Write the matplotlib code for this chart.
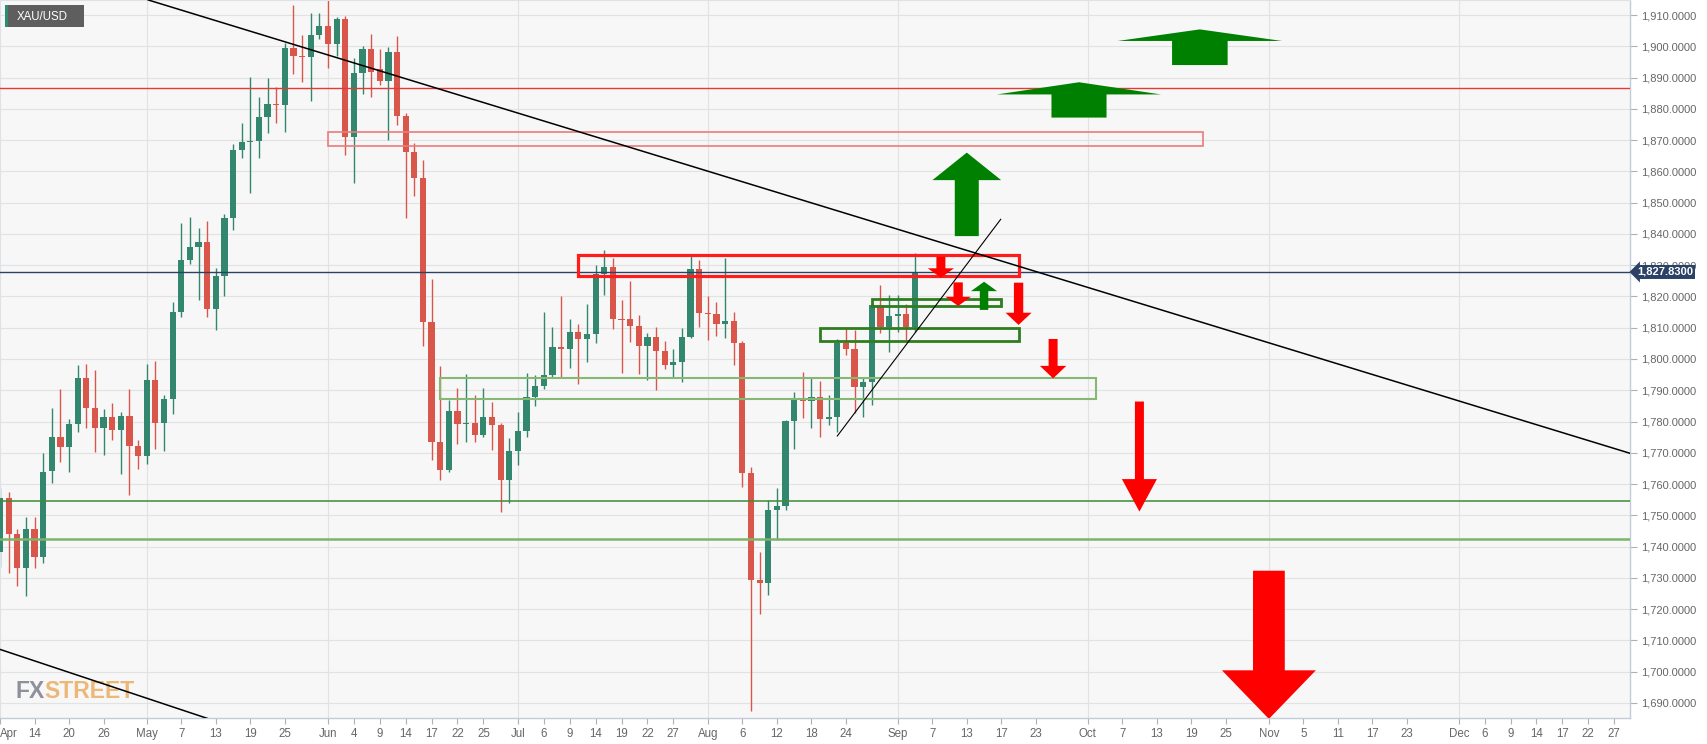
import numpy as np
import pandas as pd
import matplotlib
matplotlib.use('Agg')
import matplotlib.pyplot as plt
from matplotlib.patches import Rectangle, Polygon

plt.rcParams['font.family'] = ['Liberation Sans', 'DejaVu Sans']

# XAU/USD daily candles, 8 Apr - 3 Sep 2021
opens = [1738.4, 1755.7, 1743.9, 1733.1, 1745.5, 1736.8, 1764.2, 1775.1, 1772.0, 1779.1,
         1793.8, 1784.4, 1777.8, 1781.3, 1777.3, 1781.8, 1772.3, 1769.1, 1793.3, 1779.4,
         1787.1, 1815.1, 1831.7, 1835.9, 1837.3, 1815.9, 1826.5, 1845.0, 1866.8, 1869.5,
         1869.6, 1877.5, 1881.4, 1881.1, 1899.3, 1896.9, 1896.7, 1903.6, 1906.5, 1900.7,
         1908.7, 1871.1, 1891.6, 1899.1, 1892.7, 1888.9, 1898.3, 1877.8, 1866.3, 1857.8,
         1811.9, 1773.6, 1764.5, 1783.4, 1779.2, 1779.4, 1775.7, 1781.6, 1778.9, 1761.3,
         1770.6, 1777.0, 1788.0, 1791.4, 1794.9, 1803.9, 1803.2, 1808.5, 1806.4, 1807.9,
         1827.2, 1829.5, 1812.7, 1812.7, 1810.6, 1804.0, 1806.9, 1802.4, 1798.1, 1799.2,
         1807.1, 1828.7, 1814.6, 1814.3, 1811.1, 1812.3, 1805.0, 1763.7, 1729.4, 1728.3,
         1751.7, 1753.0, 1780.3, 1787.4, 1786.7, 1788.0, 1780.7, 1781.6, 1805.2, 1803.1,
         1791.2, 1792.8, 1817.3, 1810.3, 1813.7, 1814.3, 1810.3]
highs = [1758.6, 1757.6, 1745.5, 1749.4, 1749.6, 1769.8, 1784.2, 1790.3, 1780.8, 1798.1,
         1798.4, 1796.5, 1784.0, 1785.8, 1783.0, 1790.3, 1774.1, 1798.4, 1799.4, 1788.5,
         1818.3, 1843.6, 1845.5, 1842.0, 1844.2, 1829.0, 1846.3, 1868.8, 1875.4, 1890.3,
         1883.9, 1889.8, 1887.1, 1900.9, 1913.2, 1903.6, 1910.8, 1910.8, 1916.0, 1909.5,
         1909.7, 1896.1, 1900.1, 1903.8, 1899.0, 1899.9, 1903.3, 1878.6, 1869.2, 1863.6,
         1825.5, 1797.8, 1786.9, 1790.6, 1795.1, 1788.5, 1790.6, 1786.4, 1779.4, 1774.6,
         1783.2, 1795.4, 1794.9, 1815.1, 1810.3, 1820.0, 1812.7, 1811.2, 1817.6, 1830.1,
         1834.7, 1832.2, 1819.0, 1825.0, 1814.1, 1808.2, 1810.3, 1805.6, 1803.1, 1809.8,
         1832.9, 1831.7, 1820.2, 1818.3, 1832.4, 1815.1, 1805.6, 1765.6, 1738.4, 1754.9,
         1758.6, 1780.5, 1789.6, 1796.0, 1794.1, 1793.0, 1788.5, 1806.3, 1809.8, 1809.3,
         1794.3, 1817.8, 1823.7, 1820.5, 1820.5, 1817.6, 1833.8]
lows = [1733.6, 1731.5, 1727.5, 1724.2, 1733.1, 1734.7, 1760.2, 1767.0, 1764.0, 1776.6,
        1777.8, 1770.2, 1769.3, 1774.1, 1763.2, 1756.5, 1764.7, 1766.3, 1771.1, 1770.7,
        1782.3, 1813.5, 1830.4, 1818.8, 1813.5, 1809.3, 1820.2, 1841.3, 1864.2, 1853.0,
        1864.2, 1872.2, 1875.4, 1872.7, 1891.1, 1888.5, 1882.6, 1902.2, 1893.0, 1896.9,
        1865.2, 1856.2, 1884.6, 1883.9, 1887.6, 1870.0, 1874.8, 1845.0, 1852.1, 1804.0,
        1767.7, 1761.3, 1764.0, 1772.8, 1773.6, 1773.6, 1775.2, 1770.9, 1751.2, 1753.9,
        1766.1, 1775.0, 1785.0, 1790.3, 1794.1, 1794.4, 1797.0, 1791.9, 1798.9, 1805.0,
        1820.5, 1809.5, 1795.4, 1805.3, 1795.2, 1793.3, 1790.1, 1796.7, 1793.8, 1792.8,
        1806.6, 1810.3, 1806.1, 1807.4, 1806.6, 1798.1, 1759.2, 1687.5, 1718.5, 1724.5,
        1742.1, 1751.7, 1771.1, 1781.0, 1777.8, 1775.2, 1778.9, 1776.8, 1801.3, 1782.6,
        1781.6, 1785.3, 1808.4, 1802.3, 1808.7, 1805.5, 1808.7]
closes = [1755.4, 1743.9, 1733.1, 1745.5, 1736.8, 1764.0, 1775.1, 1772.0, 1779.1, 1793.8,
          1784.4, 1777.8, 1781.3, 1777.3, 1781.8, 1772.3, 1769.1, 1793.3, 1779.4, 1787.1,
          1815.1, 1831.5, 1835.9, 1837.3, 1815.9, 1826.5, 1845.0, 1866.8, 1869.5, 1869.6,
          1877.5, 1881.4, 1881.1, 1899.3, 1896.9, 1896.7, 1903.6, 1906.5, 1900.7, 1908.7,
          1871.1, 1891.6, 1899.1, 1891.9, 1888.9, 1898.3, 1877.8, 1866.3, 1857.8, 1811.9,
          1773.6, 1764.5, 1783.4, 1779.2, 1779.4, 1775.7, 1781.6, 1778.9, 1761.3, 1770.6,
          1777.0, 1788.0, 1791.4, 1794.9, 1803.9, 1803.2, 1808.5, 1806.4, 1807.9, 1827.2,
          1829.5, 1812.7, 1812.5, 1810.6, 1804.0, 1806.9, 1802.4, 1798.1, 1799.2, 1807.1,
          1828.7, 1814.6, 1814.3, 1811.1, 1812.3, 1805.0, 1763.7, 1729.4, 1728.3, 1751.7,
          1753.0, 1780.3, 1787.4, 1786.7, 1788.0, 1780.7, 1781.6, 1805.2, 1803.1, 1791.2,
          1792.8, 1817.3, 1810.3, 1813.7, 1814.3, 1810.3, 1827.83]
last_price = 1827.83

# axis runs on trading days up to the end of the year
days = pd.bdate_range('2021-04-08', '2021-12-31')
tick_dates = ['2021-04-08', '2021-04-14', '2021-04-20', '2021-04-26',
              '2021-05-03', '2021-05-07', '2021-05-13', '2021-05-19', '2021-05-25',
              '2021-06-01', '2021-06-04', '2021-06-09', '2021-06-14', '2021-06-17', '2021-06-22', '2021-06-25',
              '2021-07-01', '2021-07-06', '2021-07-09', '2021-07-14', '2021-07-19', '2021-07-22', '2021-07-27',
              '2021-08-02', '2021-08-06', '2021-08-12', '2021-08-18', '2021-08-24',
              '2021-09-01', '2021-09-07', '2021-09-13', '2021-09-17', '2021-09-23',
              '2021-10-01', '2021-10-07', '2021-10-13', '2021-10-19', '2021-10-25',
              '2021-11-01', '2021-11-05', '2021-11-11', '2021-11-17', '2021-11-23',
              '2021-12-01', '2021-12-06', '2021-12-09', '2021-12-14', '2021-12-17', '2021-12-22', '2021-12-27']

# annotations (x in trading days from 8 Apr, y in price)
res_level = 1886.56
sup_levels = [1754.7, 1742.5]
sup_colors = ['#3f8a36', '#7ab56a']
sup_widths = [1.1, 1.8]
# zones: x0, x1, low, high, colour, width
zones = [(38, 139.4, 1868.21, 1872.68, '#ec7b7b', 1.2),
         (67, 118, 1826.48, 1833.16, '#ff1c1c', 2.3),
         (101, 116, 1816.95, 1819.19, '#2f7d1f', 2.0),
         (95, 118, 1805.66, 1809.91, '#2f7d1f', 2.0),
         (51, 127, 1787.21, 1794.02, '#84b874', 1.5)]
# trend lines: x0, y0, x1, y1
trend_lines = [(17.18, 1914.80, 188.83, 1769.85),
               (0.0, 1707.14, 30.0, 1679.58),
               (97.0, 1775.38, 115.93, 1844.67)]
trend_widths = [1.1, 1.1, 0.8]
# arrows: x, tail, head base, tip, shaft half width, head half width, colour
arrows = [(112, 1839.3, 1857.2, 1866.0, 1.39, 3.98, '#008000'),
          (125, 1877.2, 1884.6, 1888.5, 3.19, 9.50, '#008000'),
          (139, 1894.0, 1901.7, 1905.4, 3.22, 9.52, '#008000'),
          (109, 1832.7, 1829.0, 1826.0, 0.52, 1.52, '#ff0000'),
          (111, 1824.5, 1819.9, 1816.95, 0.54, 1.47, '#ff0000'),
          (114, 1815.7, 1821.7, 1824.7, 0.49, 1.51, '#008000'),
          (118, 1824.4, 1814.8, 1810.9, 0.54, 1.51, '#ff0000'),
          (122, 1806.4, 1797.8, 1793.8, 0.52, 1.53, '#ff0000'),
          (132, 1786.4, 1761.6, 1751.2, 0.52, 2.03, '#ff0000'),
          (147, 1732.3, 1700.45, 1684.9, 1.84, 5.44, '#ff0000')]

W, H = 1707, 744
up_col = '#33876f'
dn_col = '#d9574a'

fig = plt.figure(figsize=(W / 100, H / 100), dpi=100, facecolor='white')
ax = fig.add_axes([0, 26 / H, 1630 / W, 718 / H])
ax.set_facecolor('#f7f7f7')

o = np.array(opens)
h = np.array(highs)
l = np.array(lows)
c = np.array(closes)
x = np.arange(len(o))
cols = np.where(c >= o, up_col, dn_col)

ax.vlines(x, l, h, colors=cols, lw=1, zorder=2)
body = np.maximum(np.abs(c - o), 0.35)
ax.bar(x, body, bottom=np.minimum(o, c), width=0.72, color=cols, zorder=3)

# ticks
tick_ts = pd.to_datetime(tick_dates)
tick_x = [days.get_loc(t) for t in tick_ts]
labels = []
seen = set()
for t in tick_ts:
    if t.month not in seen:
        labels.append(t.strftime('%b'))
        seen.add(t.month)
    else:
        labels.append(str(t.day))
ax.set_xticks(tick_x)
ax.set_xticklabels(labels)
ax.get_xticklabels()[0].set_horizontalalignment('left')
month_x = [tx for tx, lb in zip(tick_x, labels) if not lb.isdigit()]
for mx in month_x[1:]:
    ax.axvline(mx, color='#e2e2e2', lw=0.8, zorder=0)

yt = np.arange(1690, 1911, 10)
ax.set_yticks(yt)
ax.set_yticklabels(['{:,.4f}'.format(v) for v in yt])
ax.yaxis.tick_right()
ax.grid(axis='y', color='#e2e2e2', lw=0.8, zorder=0)
ax.set_axisbelow(True)
ax.tick_params(axis='y', length=5, width=0.8, color='#a9b2c3', labelsize=8, labelcolor='#666666', pad=3)
ax.tick_params(axis='x', length=4, width=0.8, color='#a9b2c3', labelsize=8.3, labelcolor='#666666', pad=3)

ax.set_xlim(0, 1630 / 8.632)
ax.set_ylim(1685.2, 1914.8)
for s in ['left', 'top']:
    ax.spines[s].set_color('#dde1e8')
for s in ['right', 'bottom']:
    ax.spines[s].set_color('#c4cbd8')
    ax.spines[s].set_linewidth(1)

# levels
ax.axhline(res_level, color='#e53935', lw=1.0, zorder=4)
for lv, cl, lw in zip(sup_levels, sup_colors, sup_widths):
    ax.axhline(lv, color=cl, lw=lw, zorder=4)
ax.axhline(last_price, color='#2b4266', lw=1.0, zorder=4)

for x0, x1, lo, hi, cl, lw in zones:
    ax.add_patch(Rectangle((x0, lo), x1 - x0, hi - lo, fill=False, ec=cl, lw=lw, zorder=5))

for (x0, y0, x1, y1), lw in zip(trend_lines, trend_widths):
    ax.plot([x0, x1], [y0, y1], color='black', lw=lw, zorder=5)

for ax_x, tail, base, tip, sw, hw, cl in arrows:
    pts = [(ax_x - sw, tail), (ax_x - sw, base), (ax_x - hw, base), (ax_x, tip),
           (ax_x + hw, base), (ax_x + sw, base), (ax_x + sw, tail)]
    ax.add_patch(Polygon(pts, closed=True, fc=cl, ec='none', zorder=6))

# price tag on the right axis
ax.text(1665 / 1630, last_price, '{:,.4f}'.format(last_price), transform=ax.get_yaxis_transform(),
        ha='center', va='center', color='white', fontsize=8, fontweight='bold', clip_on=False, zorder=10,
        bbox=dict(boxstyle='larrow,pad=0.18', fc='#2b4266', ec='none'))

# symbol box top-left
ax.add_patch(Rectangle((5 / W, 1 - 27 / H), 79 / W, 22 / H, transform=fig.transFigure,
                       fc='#5e5e5e', ec='none', zorder=8, clip_on=False))
ax.add_patch(Rectangle((5 / W, 1 - 27 / H), 2.5 / W, 22 / H, transform=fig.transFigure,
                       fc='#2f8a70', ec='none', zorder=9, clip_on=False))
ax.text(16.5 / W, 1 - 16.5 / H, 'XAU/USD', transform=fig.transFigure, color='white',
        fontsize=8.3, va='center', ha='left', zorder=10)

# watermark: "FX" grey, "STREET" orange, set side by side
wm_font = ['Liberation Sans Narrow', 'Liberation Sans']
fx = ax.text(15.5 / W, 1 - 698.5 / H, 'FX', transform=fig.transFigure, color='#8e909b', fontsize=16.5,
             fontweight='bold', family=wm_font, va='baseline', ha='left', zorder=1)
fig.canvas.draw()
fx_right = fx.get_window_extent().x1
ax.text(fx_right / W, 1 - 698.5 / H, 'STREET', transform=fig.transFigure, color='#ecb878', fontsize=16.5,
        fontweight='bold', family=wm_font, va='baseline', ha='left', zorder=1)

fig.savefig('out.png', dpi=100, facecolor='white')
